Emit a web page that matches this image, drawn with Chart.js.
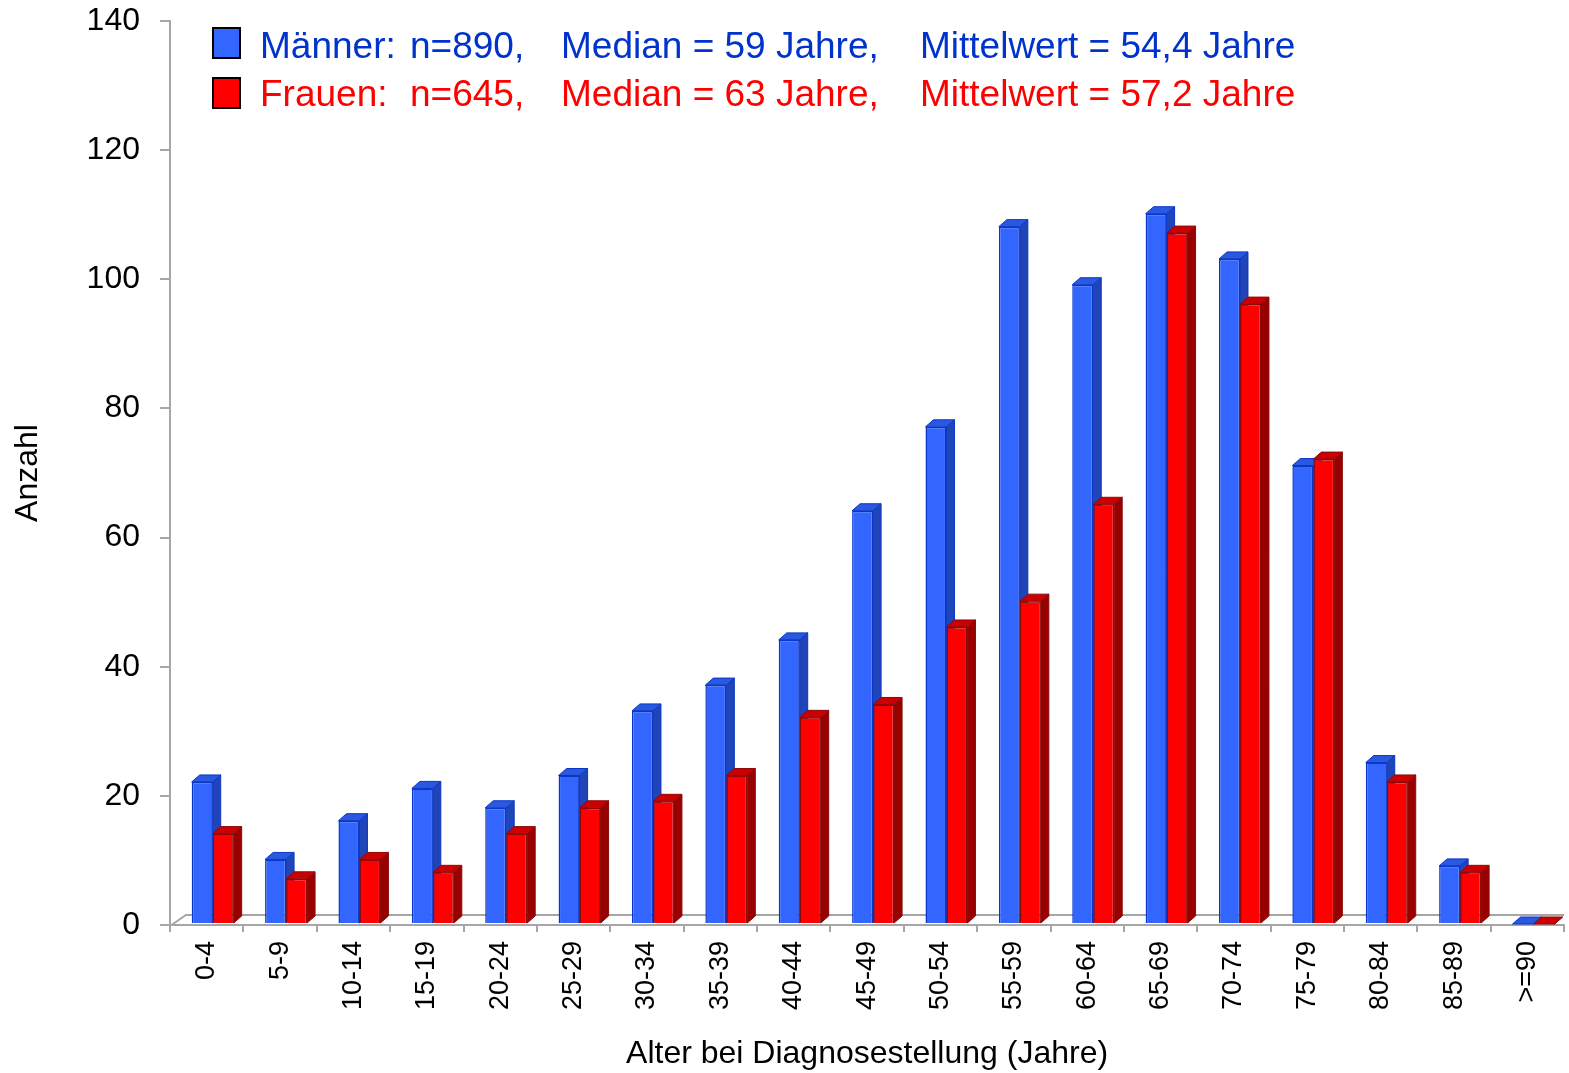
<!DOCTYPE html>
<html>
<head>
<meta charset="utf-8">
<script src="https://cdn.jsdelivr.net/npm/chart.js@4/dist/chart.umd.min.js"></script>
<style>
html,body{margin:0;padding:0;background:#fff;}
</style>
</head>
<body>
<canvas id="chart" width="1569" height="1073"></canvas>
<script>
// Altersverteilung bei Diagnosestellung

const AGE_GROUPS=['0-4','5-9','10-14','15-19','20-24','25-29','30-34','35-39','40-44','45-49','50-54','55-59','60-64','65-69','70-74','75-79','80-84','85-89','>=90'];
const MEN=[22,10,16,21,18,23,33,37,44,64,77,108,99,110,103,71,25,9,0];
const WOMEN=[14,7,10,8,14,18,19,23,32,34,46,50,65,107,96,72,22,8,0];
const Y_MAX=140, Y_STEP=20;
const LEGEND_ROWS=[
  ['Männer:','n=890,','Median = 59 Jahre,','Mittelwert = 54,4 Jahre'],
  ['Frauen:','n=645,','Median = 63 Jahre,','Mittelwert = 57,2 Jahre']
];

const FONT='"Liberation Sans", Arial, sans-serif';
const AXIS='#a6a6a6';
const DX=8, DY=7, SHIFT=6;

// 3D look: floor, side and top faces behind the library's front faces
const bars3d={id:'bars3d',
  beforeDatasetsDraw(chart){
    const {ctx,chartArea:a}=chart;
    ctx.save();
    ctx.strokeStyle=AXIS;ctx.lineWidth=2;
    ctx.beginPath();
    ctx.moveTo(a.left,a.bottom+1);
    ctx.lineTo(a.left+16,a.bottom-10);
    ctx.lineTo(a.right,a.bottom-10);
    ctx.stroke();
    ctx.restore();
    ctx.save();
    ctx.translate(SHIFT,-1);
    chart.data.datasets.forEach((ds,i)=>{
      chart.getDatasetMeta(i).data.forEach(el=>{
        const {x,y,base,width}=el.getProps(['x','y','base','width'],true);
        const l=x-width/2,r=x+width/2;
        ctx.lineWidth=1;ctx.strokeStyle=ds.borderColor;
        ctx.fillStyle=ds.sideColor;
        ctx.beginPath();ctx.moveTo(r,y);ctx.lineTo(r+DX,y-DY);ctx.lineTo(r+DX,base-DY);ctx.lineTo(r,base);ctx.closePath();
        ctx.fill();ctx.stroke();
        ctx.fillStyle=ds.topColor;
        ctx.beginPath();ctx.moveTo(l,y);ctx.lineTo(l+DX,y-DY);ctx.lineTo(r+DX,y-DY);ctx.lineTo(r,y);ctx.closePath();
        ctx.fill();ctx.stroke();
      });
    });
  },
  afterDatasetsDraw(chart){chart.ctx.restore();}
};

const legendBox={id:'legendBox',
  afterDraw(chart){
    const ctx=chart.ctx;
    const cols=[260,410,561,920];
    ctx.save();
    ctx.font='37px '+FONT;
    ctx.textBaseline='alphabetic';
    LEGEND_ROWS.forEach((row,i)=>{
      const ds=chart.data.datasets[i];
      ctx.fillStyle=ds.backgroundColor;
      ctx.fillRect(213,28+i*50,27,30);
      ctx.strokeStyle='#000';ctx.lineWidth=2;
      ctx.strokeRect(213,28+i*50,27,30);
      ctx.fillStyle=ds.textColor;
      row.forEach((t,j)=>ctx.fillText(t,cols[j],58+i*48));
    });
    ctx.restore();
  }
};

new Chart(document.getElementById('chart').getContext('2d'),{
  type:'bar',
  data:{labels:AGE_GROUPS,datasets:[
    {label:'Männer',data:MEN,backgroundColor:'#3366ff',borderColor:'#0a36c8',borderWidth:1.5,
      sideColor:'#1f45b8',topColor:'#2a58e0',textColor:'#0033cc',
      barPercentage:1,categoryPercentage:0.572,clip:false},
    {label:'Frauen',data:WOMEN,backgroundColor:'#ff0000',borderColor:'#8a0a0a',borderWidth:1.5,
      sideColor:'#990000',topColor:'#cc0000',textColor:'#ff0000',
      barPercentage:1,categoryPercentage:0.572,clip:false}
  ]},
  options:{responsive:false,animation:false,
    layout:{padding:{top:21,right:4,bottom:0,left:0}},
    plugins:{legend:{display:false},tooltip:{enabled:false}},
    scales:{
      x:{grid:{offset:true,drawOnChartArea:false,tickLength:7,color:AXIS,lineWidth:2},
        border:{color:AXIS,width:2},
        ticks:{color:'#000',font:{size:27,family:FONT},minRotation:90,maxRotation:90,padding:9,autoSkip:false},
        title:{display:true,text:'Alter bei Diagnosestellung (Jahre)',color:'#000',font:{size:32,family:FONT},padding:{top:0,bottom:0}},
        afterFit:s=>{s.height=148;}},
      y:{min:0,max:Y_MAX,
        grid:{drawOnChartArea:false,tickLength:10,color:AXIS,lineWidth:2},
        border:{color:AXIS,width:2},
        ticks:{stepSize:Y_STEP,color:'#000',font:{size:32,family:FONT},padding:20},
        title:{display:true,text:'Anzahl',color:'#000',font:{size:32,family:FONT},padding:{top:9,bottom:0}},
        afterFit:s=>{s.width=170;s.paddingTop=0;s.paddingBottom=0;}}
    }
  },
  plugins:[bars3d,legendBox]
});
</script>
</body>
</html>
